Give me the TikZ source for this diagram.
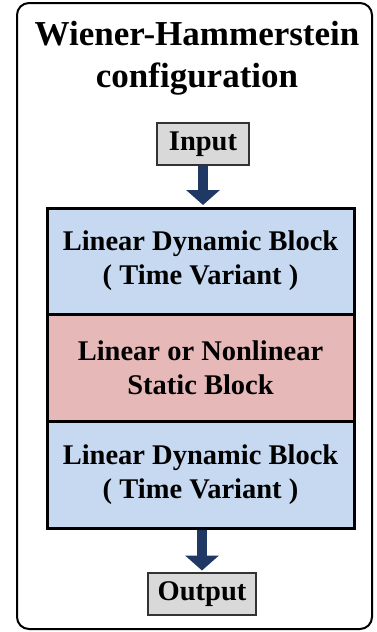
\documentclass[tikz,border=0pt]{standalone}
\usepackage{fontspec}
\setmainfont{Liberation Serif}
\usetikzlibrary{arrows.meta}
\definecolor{bluefill}{HTML}{C6D9F0}
\definecolor{redfill}{HTML}{E6B9B8}
\definecolor{grayfill}{HTML}{D9D9D9}
\definecolor{navy}{HTML}{1F3864}
\tikzset{
  blockbox/.style={draw=black, line width=3pt, minimum width=307pt, inner sep=0pt, align=center,
    font=\bfseries\fontsize{28.5}{34}\selectfont},
  iobox/.style={draw=black!80, line width=2pt, fill=grayfill, inner sep=0pt, align=center,
    font=\bfseries\fontsize{28.5}{34}\selectfont},
  flow/.style={navy, line width=10pt, -{Triangle[width=33pt,length=15pt]}, shorten >=1.5pt},
  titletext/.style={font=\bfseries\fontsize{35}{42}\selectfont, align=center, inner sep=0pt}
}
\begin{document}
\begin{tikzpicture}[x=1pt,y=-1pt]
\useasboundingbox (0,0) rectangle (376,632);
\node[draw=black, line width=2pt, rounded corners=12pt, minimum width=355pt, minimum height=626pt, inner sep=0pt] (frame) at (194.5,316) {};
\node[titletext, anchor=base] (t1) at (197,45) {Wiener-Hammerstein};
\node[titletext, anchor=base] (t2) at (197,87) {configuration};
\node[iobox, minimum width=92pt, minimum height=42pt] (in) at (203,144) {Input};
\node[blockbox, fill=bluefill, minimum height=106pt] (b1) at (200.5,261) {Linear Dynamic Block\\( Time Variant )};
\node[blockbox, fill=redfill, minimum height=107pt] (b2) at (200.5,367.5) {Linear or Nonlinear\\Static Block};
\node[blockbox, fill=bluefill, minimum height=107pt] (b3) at (200.5,474.5) {Linear Dynamic Block\\( Time Variant )};
\node[iobox, minimum width=108pt, minimum height=42pt] (out) at (202,594) {Output};
\draw[flow] (in.south) -- (in.south |- b1.north);
\draw[flow] (b3.south -| out.north) -- (out.north);
\end{tikzpicture}
\end{document}
